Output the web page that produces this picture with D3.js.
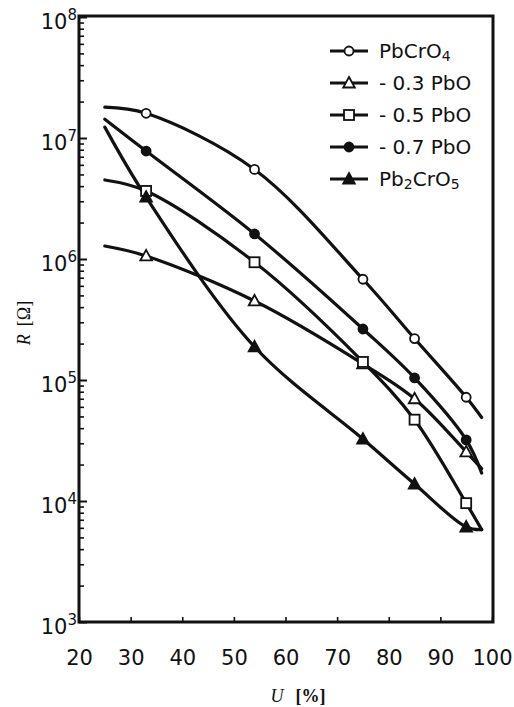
<!DOCTYPE html>
<html>
<head>
<meta charset="utf-8">
<script src="https://cdn.jsdelivr.net/npm/d3@7"></script>
<style>
  body { margin: 0; background: #fff; }
  svg { display: block; }
</style>
</head>
<body>
<svg id="chart"></svg>
<script>
// humidity U (%) where each curve is sampled; first and last are curve ends only
var uValues = [25, 33, 54, 75, 85, 95, 98];
var markerU = [33, 54, 75, 85, 95];

var seriesNames = ["PbCrO4", "- 0.3 PbO", "- 0.5 PbO", "- 0.7 PbO", "Pb2CrO5"];
var seriesSymbols = ["openCircle", "openTriangle", "openSquare", "filledCircle", "filledTriangle"];

// resistance R (ohm)
var rPbCrO4  = [1.8e7, 1.6e7, 5.5e6, 6.8e5, 2.2e5, 7.2e4, 4.9e4];
var rPbO03   = [1.28e6, 1.06e6, 4.5e5, 1.36e5, 7.0e4, 2.55e4, 1.85e4];
var rPbO05   = [4.5e6, 3.65e6, 9.4e5, 1.41e5, 4.7e4, 9.6e3, 5.8e3];
var rPbO07   = [1.43e7, 7.8e6, 1.61e6, 2.64e5, 1.04e5, 3.2e4, 1.7e4];
var rPb2CrO5 = [1.23e7, 3.25e6, 1.88e5, 3.25e4, 1.38e4, 6.1e3, 5.8e3];
var seriesValues = [rPbCrO4, rPbO03, rPbO05, rPbO07, rPb2CrO5];

var xTicks = [20, 30, 40, 50, 60, 70, 80, 90, 100];
var yDecades = [1e3, 1e4, 1e5, 1e6, 1e7, 1e8];

var width = 514, height = 707;
var margin = { left: 79, right: 492, top: 17, bottom: 622 };

var svg = d3.select("#chart")
  .attr("width", width)
  .attr("height", height);

var x = d3.scaleLinear().domain([20, 100]).range([margin.left, margin.right]);
var y = d3.scaleLog().domain([1e3, 1e8]).range([margin.bottom, margin.top]);

// minor ticks 2..9 in every decade
var minorTicks = [];
yDecades.slice(0, -1).forEach(d => {
  for (var k = 2; k <= 9; k++) minorTicks.push(d * k);
});

// y axis ticks point into the plot
svg.append("g")
  .attr("class", "y-minor")
  .attr("transform", "translate(" + margin.left + ",0)")
  .call(d3.axisRight(y).tickValues(minorTicks).tickSize(5).tickFormat(""))
  .call(g => g.select(".domain").remove())
  .selectAll("line").attr("stroke", "#111").attr("stroke-width", 1.6);

svg.append("g")
  .attr("class", "y-major")
  .attr("transform", "translate(" + margin.left + ",0)")
  .call(d3.axisRight(y).tickValues(yDecades).tickSize(8).tickFormat(""))
  .call(g => g.select(".domain").remove())
  .selectAll("line").attr("stroke", "#111").attr("stroke-width", 2);

// y labels as 10 with superscript exponent
var yLab = svg.append("g").selectAll("text")
  .data(yDecades)
  .enter()
  .append("text")
  .attr("x", margin.left - 2)
  .attr("y", d => y(d) + 12)
  .attr("text-anchor", "end")
  .style("font-family", "DejaVu Sans, sans-serif")
  .style("font-size", "21px")
  .attr("fill", "#111");
yLab.append("tspan").text("10");
yLab.append("tspan")
  .attr("dy", -9)
  .style("font-size", "15px")
  .text(d => Math.round(Math.log10(d)));

// x axis
var xAxis = svg.append("g")
  .attr("transform", "translate(0," + margin.bottom + ")")
  .call(d3.axisBottom(x).tickValues(xTicks).tickSizeInner(-5).tickSizeOuter(0).tickPadding(28));
xAxis.select(".domain").remove();
xAxis.selectAll("line").attr("stroke", "#111").attr("stroke-width", 1.6);
xAxis.selectAll("text")
  .style("font-family", "DejaVu Sans, sans-serif")
  .style("font-size", "21px")
  .attr("fill", "#111");

// frame
svg.append("rect")
  .attr("x", margin.left)
  .attr("y", margin.top - 1)
  .attr("width", margin.right - margin.left + 1)
  .attr("height", margin.bottom - margin.top + 1)
  .attr("fill", "none")
  .attr("stroke", "#111")
  .attr("stroke-width", 3);

// curves
var line = d3.line()
  .x(d => x(d.u))
  .y(d => y(d.r))
  .curve(d3.curveCatmullRom.alpha(0.5));

var series = seriesNames.map((name, i) => ({
  name: name,
  symbol: seriesSymbols[i],
  points: uValues.map((u, j) => ({ u: u, r: seriesValues[i][j] }))
}));

function drawSymbol(g, symbol, cx, cy, scale) {
  var fill = symbol.indexOf("filled") === 0 ? "#111" : "#fff";
  if (symbol.indexOf("Circle") > 0) {
    g.append("circle")
      .attr("cx", cx).attr("cy", cy).attr("r", 4.5 * scale)
      .attr("fill", fill).attr("stroke", "#111").attr("stroke-width", 1.8);
  } else if (symbol.indexOf("Square") > 0) {
    var s = 10 * scale;
    g.append("rect")
      .attr("x", cx - s / 2).attr("y", cy - s / 2).attr("width", s).attr("height", s)
      .attr("fill", fill).attr("stroke", "#111").attr("stroke-width", 1.8);
  } else {
    var h = 10 * scale;
    g.append("path")
      .attr("d", "M" + cx + "," + (cy - h * 0.6) + "L" + (cx + h * 0.58) + "," + (cy + h * 0.45) +
        "L" + (cx - h * 0.58) + "," + (cy + h * 0.45) + "Z")
      .attr("fill", fill).attr("stroke", "#111").attr("stroke-width", 1.8)
      .attr("stroke-linejoin", "miter");
  }
}

var plot = svg.append("g");
series.forEach(s => {
  plot.append("path")
    .datum(s.points)
    .attr("d", line)
    .attr("fill", "none")
    .attr("stroke", "#111")
    .attr("stroke-width", 3.2)
    .attr("stroke-linecap", "round");
});
series.forEach(s => {
  var g = plot.append("g");
  s.points.filter(p => markerU.indexOf(p.u) >= 0).forEach(p => {
    drawSymbol(g, s.symbol, x(p.u), y(p.r), 1);
  });
});

// legend
var legend = svg.append("g");
series.forEach((s, i) => {
  var cy = 51 + i * 32;
  legend.append("line")
    .attr("x1", 330).attr("x2", 368)
    .attr("y1", cy).attr("y2", cy)
    .attr("stroke", "#111").attr("stroke-width", 3);
  drawSymbol(legend, s.symbol, 349, cy, 1);
  var t = legend.append("text")
    .attr("x", 379)
    .attr("y", cy + 7)
    .style("font-family", "DejaVu Sans, sans-serif")
    .style("font-size", "20px")
    .attr("fill", "#111");
  // chemical formulas get subscript digits
  var m = s.name.match(/^(Pb)(\d?)(CrO)(\d)$/);
  if (m) {
    t.append("tspan").text(m[1]);
    if (m[2]) t.append("tspan").attr("dy", 3).style("font-size", "14px").text(m[2]);
    t.append("tspan").attr("dy", m[2] ? -3 : 0).text(m[3]);
    t.append("tspan").attr("dy", 3).style("font-size", "14px").text(m[4]);
  } else {
    t.text(s.name);
  }
});

// axis titles
var yTitle = svg.append("text")
  .attr("transform", "translate(30,323) rotate(-90)")
  .attr("text-anchor", "middle")
  .style("font-family", "Liberation Serif, serif")
  .style("font-size", "18px")
  .attr("fill", "#111");
yTitle.append("tspan").style("font-style", "italic").text("R");
yTitle.append("tspan").attr("dx", 8).text("[Ω]");

var xTitle = svg.append("text")
  .attr("x", 298)
  .attr("y", 702)
  .attr("text-anchor", "middle")
  .style("font-family", "Liberation Serif, serif")
  .style("font-size", "18px")
  .attr("fill", "#111");
xTitle.append("tspan").style("font-style", "italic").text("U");
xTitle.append("tspan").attr("dx", 12).style("font-weight", "bold").text("[%]");
</script>
</body>
</html>
